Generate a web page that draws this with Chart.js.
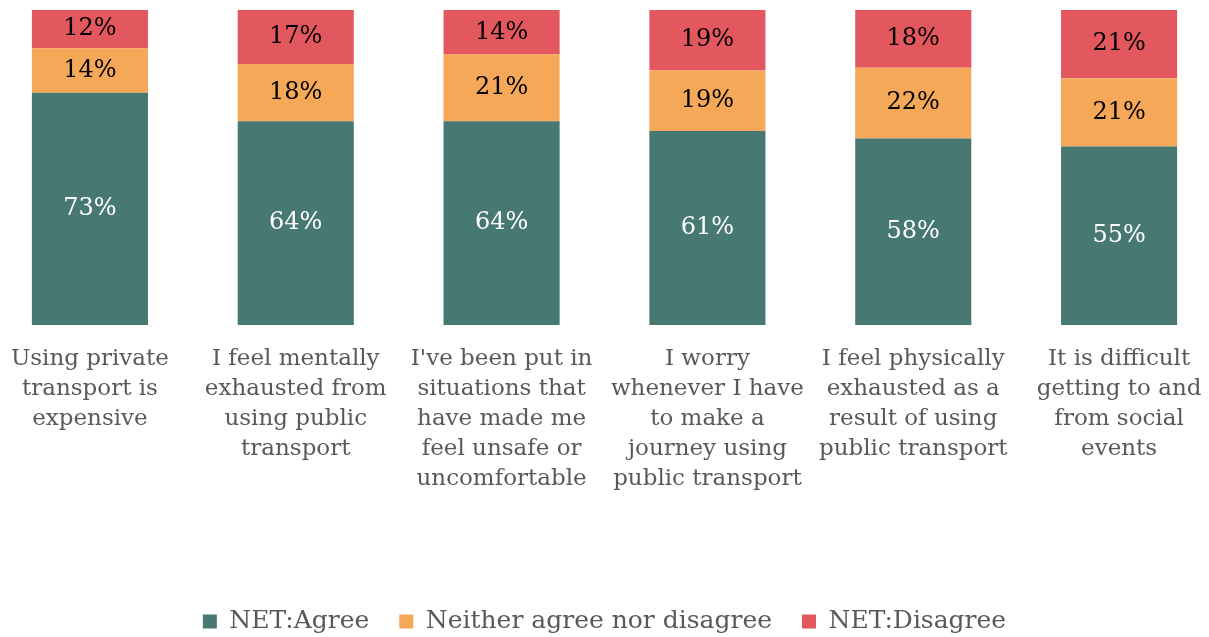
<!DOCTYPE html>
<html>
<head>
<meta charset="utf-8">
<script src="https://cdn.jsdelivr.net/npm/chart.js@4"></script>
<style>
    html, body { margin: 0; padding: 0; background: #fff; overflow: hidden; }
    #wrap { position: absolute; left: -13px; top: 0; width: 1235px; height: 637px; }
</style>
</head>
<body>
<div id="wrap"><canvas id="chart"></canvas></div>
<script>
const categories = [
    ['Using private', 'transport is', 'expensive'],
    ['I feel mentally', 'exhausted from', 'using public', 'transport'],
    ["I've been put in", 'situations that', 'have made me', 'feel unsafe or', 'uncomfortable'],
    ['I worry', 'whenever I have', 'to make a', 'journey using', 'public transport'],
    ['I feel physically', 'exhausted as a', 'result of using', 'public transport'],
    ['It is difficult', 'getting to and', 'from social', 'events']
];
const agree = [73, 64, 64, 61, 58, 55];
const neither = [14, 18, 21, 19, 22, 21];
const disagree = [12, 17, 14, 19, 18, 21];

const seriesNames = ['NET:Agree', 'Neither agree nor disagree', 'NET:Disagree'];
const seriesColors = ['#477872', '#F5A857', '#E3585E'];
const labelColors = ['#ffffff', '#000000', '#000000'];

const serif = "'DejaVu Serif', serif";

// bars are stacked to 100% of each column's total
const raw = [agree, neither, disagree];
const totals = agree.map((v, i) => v + neither[i] + disagree[i]);
const shares = raw.map(arr => arr.map((v, i) => v / totals[i] * 100));

const barLabels = {
    id: 'barLabels',
    afterDatasetsDraw(chart) {
        const ctx = chart.ctx;
        ctx.save();
        ctx.font = '24px ' + serif;
        ctx.textAlign = 'center';
        ctx.textBaseline = 'middle';
        chart.data.datasets.forEach((ds, di) => {
            chart.getDatasetMeta(di).data.forEach((bar, i) => {
                const mid = (bar.y + bar.base) / 2;
                ctx.fillStyle = labelColors[di];
                ctx.fillText(raw[di][i] + '%', bar.x, mid);
            });
        });
        ctx.restore();
    }
};

new Chart(document.getElementById('chart'), {
    type: 'bar',
    data: {
        labels: categories,
        datasets: seriesNames.map((name, i) => ({
            label: name,
            data: shares[i],
            backgroundColor: seriesColors[i],
            borderWidth: 0,
            categoryPercentage: 1,
            barPercentage: 0.564
        }))
    },
    options: {
        responsive: true,
        maintainAspectRatio: false,
        animation: false,
        layout: { padding: { top: 10, bottom: -7 } },
        plugins: {
            tooltip: { enabled: false },
            legend: {
                position: 'bottom',
                labels: {
                    boxWidth: 14,
                    boxHeight: 14,
                    padding: 30,
                    color: '#595959',
                    font: { family: serif, size: 25 }
                }
            }
        },
        scales: {
            x: {
                stacked: true,
                grid: { display: false },
                border: { display: false },
                ticks: {
                    color: '#595959',
                    font: { family: serif, size: 23, lineHeight: 1.304 },
                    padding: 11,
                    maxRotation: 0,
                    autoSkip: false
                },
                afterFit(axis) { axis.height = 254; }
            },
            y: {
                stacked: true,
                display: false,
                min: 0,
                max: 100
            }
        }
    },
    plugins: [barLabels]
});
</script>
</body>
</html>
